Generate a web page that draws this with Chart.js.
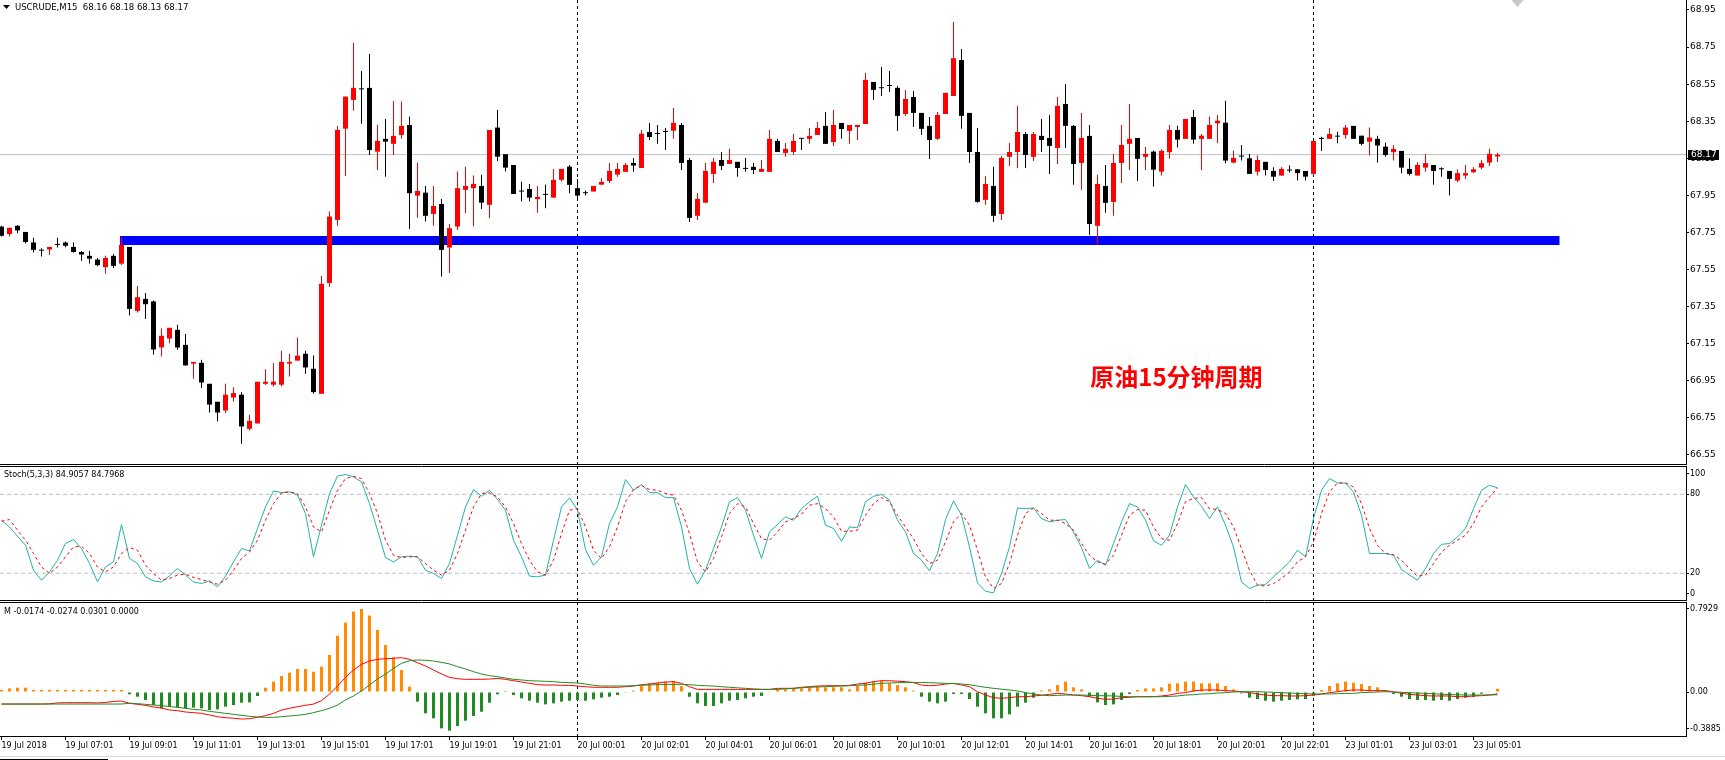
<!DOCTYPE html>
<html>
<head>
<meta charset="utf-8">
<title>USCRUDE M15</title>
<script src="https://cdn.jsdelivr.net/npm/chart.js@4.4.1/dist/chart.umd.min.js"></script>
<style>
  html, body { margin: 0; padding: 0; background: #fff; }
  body { width: 1725px; height: 760px; position: relative; overflow: hidden; }
  .pane { position: absolute; left: 0; width: 1725px; }
  #pricePane { top: 0; height: 465px; }
  #stochPane { top: 466px; height: 135px; }
  #macdPane { top: 602px; height: 158px; }
</style>
</head>
<body>
<div class="pane" id="pricePane"><canvas id="priceChart"></canvas></div>
<div class="pane" id="stochPane"><canvas id="stochChart"></canvas></div>
<div class="pane" id="macdPane"><canvas id="macdChart"></canvas></div>
<script>
const symbolName = 'USCRUDE,M15';
const stochTitle = 'Stoch(5,3,3) 84.9057 84.7968';
const macdTitle = 'M -0.0174 -0.0274 0.0301 0.0000';
const noteText = '原油15分钟周期';
const noteBar = 136.1;
const notePrice = 66.97;
const shiftMarkBar = 189.5;

// 15 minute candles, one per bar index
const opens = [
  67.782, 67.741, 67.786, 67.753, 67.696, 67.652, 67.658, 67.683, 67.696, 67.672,
  67.645, 67.624, 67.604, 67.563, 67.624, 67.582, 67.672, 67.327, 67.392, 67.378,
  67.130, 67.178, 67.225, 67.144, 67.043, 67.047, 66.934, 66.837, 66.790, 66.860,
  66.875, 66.691, 66.720, 66.934, 66.929, 66.929, 67.043, 67.059, 67.096, 67.015,
  66.880, 67.478, 67.818, 68.310, 68.465, 68.522, 68.530, 68.186, 68.255, 68.228,
  68.276, 68.330, 67.949, 67.965, 67.850, 67.904, 67.669, 67.782, 67.980, 67.989,
  68.001, 67.899, 68.316, 68.172, 68.114, 67.971, 67.985, 67.930, 67.953, 67.938,
  68.034, 68.105, 67.989, 67.962, 67.971, 68.008, 68.028, 68.062, 68.077, 68.125,
  68.098, 68.292, 68.281, 68.292, 68.299, 68.330, 68.141, 67.840, 67.911, 68.066,
  68.141, 68.120, 68.131, 68.093, 68.104, 68.077, 68.077, 68.244, 68.179, 68.184,
  68.255, 68.255, 68.276, 68.325, 68.238, 68.341, 68.298, 68.319, 68.335, 68.562,
  68.528, 68.540, 68.530, 68.389, 68.481, 68.395, 68.325, 68.255, 68.389, 68.486,
  68.680, 68.395, 68.184, 67.926, 68.001, 67.850, 68.158, 68.184, 68.281, 68.158,
  68.271, 68.260, 68.206, 68.443, 68.325, 68.125, 68.271, 67.786, 68.001, 67.915,
  68.125, 68.228, 68.260, 68.158, 68.186, 68.078, 68.183, 68.303, 68.255, 68.373,
  68.255, 68.255, 68.339, 68.342, 68.127, 68.159, 68.150, 68.078, 68.131, 68.082,
  68.057, 68.084, 68.091, 68.082, 68.066, 68.255, 68.255, 68.267, 68.276, 68.325,
  68.272, 68.240, 68.255, 68.213, 68.183, 68.190, 68.093, 68.057, 68.100, 68.114,
  68.091, 68.082, 68.030, 68.057, 68.075, 68.100, 68.127, 68.160
];
const highs = [
  67.786, 67.775, 67.790, 67.753, 67.721, 67.665, 67.672, 67.721, 67.701, 67.696,
  67.650, 67.650, 67.612, 67.624, 67.634, 67.728, 67.672, 67.462, 67.423, 67.383,
  67.234, 67.236, 67.252, 67.202, 67.052, 67.063, 66.934, 66.837, 66.934, 66.915,
  66.888, 66.767, 66.945, 67.013, 67.045, 67.112, 67.096, 67.183, 67.112, 67.086,
  67.516, 67.863, 68.325, 68.483, 68.774, 68.621, 68.713, 68.330, 68.362, 68.459,
  68.456, 68.375, 68.127, 68.001, 68.001, 67.931, 67.796, 68.079, 68.105, 68.057,
  68.061, 68.303, 68.411, 68.172, 68.114, 68.023, 68.012, 68.001, 68.007, 68.093,
  68.093, 68.114, 68.039, 67.976, 68.001, 68.044, 68.125, 68.125, 68.125, 68.152,
  68.303, 68.341, 68.330, 68.314, 68.422, 68.341, 68.152, 67.963, 68.125, 68.152,
  68.184, 68.201, 68.131, 68.152, 68.125, 68.141, 68.303, 68.255, 68.233, 68.281,
  68.260, 68.314, 68.346, 68.400, 68.411, 68.341, 68.330, 68.330, 68.610, 68.562,
  68.643, 68.621, 68.540, 68.519, 68.513, 68.395, 68.373, 68.400, 68.503, 68.885,
  68.740, 68.395, 68.314, 68.055, 68.104, 68.163, 68.233, 68.433, 68.292, 68.292,
  68.362, 68.384, 68.481, 68.551, 68.330, 68.395, 68.330, 68.061, 68.114, 68.174,
  68.330, 68.443, 68.260, 68.211, 68.192, 68.199, 68.330, 68.326, 68.362, 68.411,
  68.281, 68.375, 68.384, 68.461, 68.192, 68.222, 68.174, 68.165, 68.131, 68.102,
  68.102, 68.111, 68.091, 68.082, 68.244, 68.267, 68.312, 68.294, 68.330, 68.325,
  68.272, 68.316, 68.272, 68.235, 68.222, 68.190, 68.150, 68.129, 68.174, 68.114,
  68.102, 68.082, 68.091, 68.114, 68.102, 68.141, 68.201, 68.180
];
const lows = [
  67.728, 67.728, 67.746, 67.690, 67.642, 67.620, 67.629, 67.669, 67.671, 67.642,
  67.597, 67.583, 67.568, 67.527, 67.559, 67.575, 67.302, 67.318, 67.283, 67.090,
  67.081, 67.153, 67.117, 67.033, 66.961, 66.911, 66.779, 66.731, 66.776, 66.839,
  66.610, 66.682, 66.720, 66.927, 66.919, 66.919, 66.973, 67.059, 66.988, 66.880,
  66.880, 67.458, 67.786, 68.055, 68.407, 68.336, 68.168, 68.087, 68.051, 68.168,
  68.256, 67.769, 67.830, 67.809, 67.787, 67.512, 67.531, 67.764, 67.854, 67.782,
  67.877, 67.827, 68.136, 68.079, 67.958, 67.917, 67.917, 67.857, 67.881, 67.938,
  68.024, 67.962, 67.926, 67.949, 67.971, 68.008, 68.017, 68.050, 68.077, 68.077,
  68.098, 68.249, 68.228, 68.195, 68.255, 68.087, 67.807, 67.818, 67.908, 68.017,
  68.087, 68.120, 68.050, 68.077, 68.066, 68.077, 68.077, 68.184, 68.158, 68.168,
  68.195, 68.228, 68.276, 68.228, 68.217, 68.255, 68.228, 68.249, 68.335, 68.465,
  68.486, 68.508, 68.298, 68.379, 68.319, 68.276, 68.147, 68.249, 68.389, 68.486,
  68.309, 68.125, 67.910, 67.899, 67.807, 67.818, 68.109, 68.098, 68.098, 68.136,
  68.184, 68.066, 68.120, 68.206, 68.007, 67.980, 67.737, 67.683, 67.856, 67.840,
  68.017, 68.087, 68.028, 68.087, 67.998, 68.057, 68.148, 68.208, 68.255, 68.228,
  68.087, 68.255, 68.231, 68.124, 68.124, 68.138, 68.066, 68.057, 68.057, 68.028,
  68.057, 68.073, 68.030, 68.030, 68.057, 68.190, 68.255, 68.231, 68.255, 68.255,
  68.219, 68.165, 68.127, 68.159, 68.138, 68.070, 68.057, 68.057, 68.078, 68.007,
  68.051, 67.949, 68.021, 68.039, 68.070, 68.091, 68.109, 68.130
];
const closes = [
  67.732, 67.775, 67.761, 67.699, 67.656, 67.652, 67.672, 67.683, 67.678, 67.645,
  67.631, 67.609, 67.574, 67.613, 67.570, 67.683, 67.338, 67.401, 67.363, 67.119,
  67.193, 67.236, 67.130, 67.033, 67.052, 66.941, 66.822, 66.779, 66.875, 66.884,
  66.704, 66.734, 66.945, 66.945, 66.945, 67.052, 67.052, 67.086, 67.022, 66.889,
  67.473, 67.836, 68.303, 68.483, 68.530, 68.522, 68.195, 68.244, 68.240, 68.271,
  68.325, 67.962, 67.974, 67.840, 67.893, 67.656, 67.773, 67.989, 68.001, 68.012,
  67.911, 68.303, 68.159, 68.100, 67.958, 67.971, 67.938, 67.942, 67.953, 68.034,
  68.093, 68.007, 67.949, 67.962, 68.001, 68.023, 68.082, 68.093, 68.114, 68.111,
  68.283, 68.265, 68.281, 68.292, 68.341, 68.125, 67.829, 67.931, 68.082, 68.131,
  68.109, 68.141, 68.098, 68.093, 68.087, 68.093, 68.255, 68.184, 68.201, 68.244,
  68.255, 68.271, 68.314, 68.228, 68.330, 68.308, 68.330, 68.330, 68.573, 68.519,
  68.528, 68.540, 68.379, 68.470, 68.395, 68.309, 68.249, 68.384, 68.503, 68.690,
  68.379, 68.184, 67.915, 68.012, 67.840, 68.152, 68.184, 68.292, 68.168, 68.281,
  68.249, 68.217, 68.433, 68.325, 68.120, 68.260, 67.796, 68.012, 67.910, 68.125,
  68.222, 68.255, 68.147, 68.174, 68.089, 68.190, 68.303, 68.251, 68.362, 68.251,
  68.272, 68.330, 68.353, 68.138, 68.152, 68.159, 68.066, 68.141, 68.087, 68.051,
  68.093, 68.084, 68.070, 68.051, 68.244, 68.255, 68.281, 68.267, 68.316, 68.255,
  68.228, 68.262, 68.219, 68.168, 68.201, 68.100, 68.066, 68.114, 68.124, 68.082,
  68.091, 68.039, 68.070, 68.070, 68.091, 68.124, 68.174, 68.170
];

// Stochastic %K and %D
const stochMain = [
  60.3, 55.2, 48.1, 41.3, 22.3, 14.7, 21.0, 29.9, 42.6, 45.6,
  38.8, 27.4, 13.4, 24.8, 28.6, 57.0, 31.2, 27.4, 17.3, 14.2,
  13.4, 18.0, 23.6, 18.6, 13.4, 12.2, 14.2, 9.6, 17.8, 28.6,
  38.8, 37.0, 54.0, 70.4, 82.6, 81.3, 81.8, 79.3, 65.4, 32.5,
  56.5, 80.6, 93.9, 95.0, 93.2, 89.4, 72.9, 52.7, 31.9, 28.6,
  32.5, 33.0, 32.5, 22.3, 19.8, 16.0, 27.4, 48.9, 70.4, 83.6,
  78.5, 83.1, 76.0, 67.9, 45.1, 32.5, 17.8, 17.3, 18.6, 45.1,
  70.4, 77.3, 67.9, 38.0, 26.1, 32.5, 57.8, 70.4, 91.2, 83.1,
  87.4, 81.3, 81.3, 77.5, 77.5, 55.2, 23.6, 11.7, 22.3, 38.8,
  55.2, 74.3, 77.5, 67.9, 48.9, 31.2, 51.4, 57.0, 62.8, 60.3,
  69.1, 74.3, 78.5, 56.5, 54.0, 44.3, 55.2, 54.5, 74.3, 78.5,
  79.8, 75.5, 60.3, 51.4, 35.0, 29.9, 21.8, 35.0, 60.8, 75.0,
  64.1, 40.0, 12.7, 6.3, 5.1, 19.8, 40.0, 69.6, 69.1, 69.6,
  61.6, 59.0, 60.3, 60.8, 51.4, 39.5, 23.6, 29.9, 26.1, 42.6,
  59.0, 72.9, 70.4, 60.3, 44.6, 41.3, 48.9, 70.4, 87.4, 78.0,
  70.9, 61.6, 70.4, 56.5, 40.0, 13.4, 8.4, 10.9, 11.4, 17.3,
  22.8, 28.6, 37.5, 32.5, 61.6, 83.1, 91.9, 88.6, 88.6, 81.8,
  64.1, 35.0, 35.0, 35.0, 33.7, 22.8, 18.6, 14.7, 23.6, 35.0,
  42.0, 42.6, 47.6, 54.0, 69.1, 83.1, 86.8, 84.9
];
const stochSignal = [
  59.5, 60.8, 52.7, 45.1, 35.0, 24.8, 19.8, 24.8, 32.5, 40.0,
  40.5, 35.0, 24.8, 21.0, 24.8, 35.0, 39.5, 37.5, 26.1, 19.8,
  14.7, 16.0, 18.6, 19.3, 16.8, 15.2, 13.4, 11.7, 14.7, 22.3,
  31.2, 36.2, 45.1, 60.3, 72.9, 81.1, 81.8, 80.6, 70.4, 55.2,
  51.4, 67.9, 83.1, 91.9, 93.7, 91.9, 80.6, 65.4, 45.1, 33.7,
  31.9, 32.5, 32.5, 27.4, 22.3, 18.6, 22.3, 35.0, 52.7, 70.4,
  80.6, 81.1, 78.0, 70.4, 57.8, 42.6, 29.9, 21.0, 18.6, 29.9,
  50.1, 67.9, 69.1, 55.2, 37.5, 31.2, 40.0, 55.2, 74.3, 83.6,
  86.8, 83.6, 83.1, 80.6, 79.3, 67.9, 50.1, 28.6, 21.0, 31.2,
  47.6, 65.4, 72.9, 70.4, 57.8, 46.3, 45.1, 51.4, 59.0, 61.6,
  64.9, 71.7, 72.9, 69.1, 62.8, 51.9, 51.9, 52.7, 64.1, 72.9,
  77.5, 74.3, 64.1, 55.2, 46.3, 35.0, 27.4, 29.9, 43.8, 59.0,
  65.4, 56.5, 37.5, 17.3, 8.4, 12.2, 27.4, 48.9, 65.4, 69.6,
  65.4, 60.3, 60.3, 57.8, 52.7, 42.6, 33.7, 28.6, 26.9, 33.7,
  48.9, 64.1, 68.4, 67.9, 55.2, 46.3, 45.1, 57.8, 74.3, 76.8,
  77.5, 69.1, 68.4, 65.4, 55.2, 38.8, 22.3, 10.9, 10.2, 12.2,
  16.0, 21.0, 28.6, 32.5, 43.8, 65.4, 81.8, 88.6, 88.6, 85.6,
  72.9, 54.0, 41.3, 35.0, 34.2, 29.9, 23.6, 17.8, 18.6, 27.4,
  36.2, 41.3, 45.1, 48.9, 57.8, 70.4, 78.0, 84.8
];
const stochLevels = [20, 80];

// "M" oscillator: histogram, main line, signal line
const macdHist = [
  0.021, 0.035, 0.041, 0.041, 0.021, 0.021, 0.021, 0.021, 0.021, 0.021,
  0.021, 0.021, 0.021, 0.021, 0.021, 0.021, -0.022, -0.045, -0.076, -0.124,
  -0.156, -0.140, -0.149, -0.156, -0.149, -0.156, -0.172, -0.166, -0.140, -0.124,
  -0.102, -0.099, -0.038, 0.041, 0.099, 0.153, 0.185, 0.220, 0.220, 0.194,
  0.242, 0.354, 0.538, 0.663, 0.768, 0.793, 0.730, 0.592, 0.449, 0.331,
  0.210, 0.051, -0.092, -0.204, -0.251, -0.347, -0.369, -0.325, -0.274, -0.229,
  -0.188, -0.102, -0.022, 0.010, -0.029, -0.060, -0.083, -0.102, -0.118, -0.108,
  -0.092, -0.083, -0.076, -0.083, -0.070, -0.054, -0.045, -0.029, -0.003, 0.013,
  0.057, 0.083, 0.089, 0.099, 0.105, 0.057, -0.045, -0.108, -0.134, -0.134,
  -0.108, -0.083, -0.076, -0.060, -0.045, -0.038, 0.003, 0.025, 0.025, 0.035,
  0.035, 0.045, 0.057, 0.045, 0.045, 0.045, 0.025, 0.057, 0.089, 0.099,
  0.108, 0.083, 0.067, 0.045, 0.013, -0.045, -0.092, -0.108, -0.092, -0.019,
  -0.019, -0.067, -0.140, -0.204, -0.251, -0.251, -0.213, -0.140, -0.102, -0.054,
  0.013, 0.025, 0.067, 0.099, 0.045, 0.025, -0.045, -0.099, -0.124, -0.118,
  -0.076, -0.019, 0.019, 0.035, 0.035, 0.045, 0.080, 0.083, 0.099, 0.100,
  0.083, 0.083, 0.083, 0.057, 0.025, -0.013, -0.054, -0.067, -0.083, -0.092,
  -0.083, -0.076, -0.070, -0.067, -0.035, 0.019, 0.057, 0.083, 0.099, 0.089,
  0.076, 0.057, 0.045, 0.019, -0.019, -0.045, -0.067, -0.076, -0.076, -0.083,
  -0.076, -0.083, -0.067, -0.054, -0.048, -0.016, 0.006, 0.030
];
const macdMain = [
  -0.115, -0.115, -0.115, -0.115, -0.115, -0.115, -0.113, -0.104, -0.102, -0.102,
  -0.102, -0.102, -0.104, -0.100, -0.090, -0.086, -0.108, -0.118, -0.127, -0.143,
  -0.153, -0.172, -0.178, -0.191, -0.197, -0.204, -0.220, -0.236, -0.245, -0.251,
  -0.258, -0.255, -0.242, -0.226, -0.204, -0.172, -0.156, -0.140, -0.127, -0.115,
  -0.083, -0.020, 0.057, 0.140, 0.210, 0.264, 0.296, 0.312, 0.318, 0.322,
  0.328, 0.312, 0.280, 0.248, 0.210, 0.172, 0.140, 0.127, 0.121, 0.121,
  0.121, 0.124, 0.130, 0.121, 0.108, 0.096, 0.083, 0.070, 0.067, 0.067,
  0.064, 0.064, 0.057, 0.051, 0.045, 0.045, 0.045, 0.045, 0.051, 0.057,
  0.070, 0.076, 0.086, 0.095, 0.099, 0.083, 0.051, 0.025, 0.025, 0.025,
  0.025, 0.025, 0.025, 0.025, 0.025, 0.025, 0.025, 0.035, 0.035, 0.035,
  0.045, 0.051, 0.057, 0.060, 0.060, 0.060, 0.064, 0.076, 0.083, 0.099,
  0.108, 0.108, 0.103, 0.099, 0.089, 0.067, 0.060, 0.065, 0.076, 0.083,
  0.067, 0.051, 0.003, -0.029, -0.054, -0.060, -0.054, -0.045, -0.045, -0.038,
  -0.032, -0.022, -0.013, -0.019, -0.029, -0.035, -0.045, -0.060, -0.070, -0.067,
  -0.054, -0.051, -0.045, -0.045, -0.045, -0.038, -0.029, -0.013, -0.006, 0.010,
  0.019, 0.019, 0.019, 0.013, 0.010, 0.003, -0.006, -0.019, -0.029, -0.035,
  -0.035, -0.038, -0.038, -0.035, -0.029, -0.019, -0.006, 0.003, 0.013, 0.019,
  0.019, 0.013, 0.013, 0.013, 0.003, -0.013, -0.022, -0.029, -0.035, -0.038,
  -0.038, -0.038, -0.045, -0.045, -0.038, -0.035, -0.029, -0.017
];
const macdSignal = [
  -0.115, -0.115, -0.115, -0.115, -0.115, -0.115, -0.115, -0.115, -0.115, -0.115,
  -0.115, -0.115, -0.115, -0.115, -0.115, -0.115, -0.108, -0.111, -0.118, -0.124,
  -0.130, -0.140, -0.146, -0.156, -0.166, -0.172, -0.185, -0.194, -0.204, -0.213,
  -0.223, -0.232, -0.239, -0.242, -0.242, -0.236, -0.229, -0.223, -0.213, -0.197,
  -0.178, -0.156, -0.124, -0.076, -0.038, 0.010, 0.067, 0.124, 0.172, 0.226,
  0.274, 0.299, 0.306, 0.303, 0.296, 0.283, 0.268, 0.242, 0.220, 0.194,
  0.172, 0.156, 0.146, 0.134, 0.121, 0.115, 0.108, 0.105, 0.102, 0.099,
  0.092, 0.089, 0.086, 0.076, 0.064, 0.057, 0.057, 0.057, 0.057, 0.060,
  0.064, 0.067, 0.070, 0.072, 0.073, 0.073, 0.070, 0.064, 0.060, 0.057,
  0.051, 0.045, 0.040, 0.035, 0.030, 0.025, 0.025, 0.025, 0.030, 0.035,
  0.040, 0.045, 0.048, 0.051, 0.054, 0.057, 0.060, 0.064, 0.067, 0.075,
  0.083, 0.086, 0.089, 0.091, 0.092, 0.091, 0.089, 0.086, 0.083, 0.080,
  0.076, 0.070, 0.057, 0.045, 0.035, 0.027, 0.019, 0.010, -0.006, -0.019,
  -0.029, -0.035, -0.032, -0.029, -0.029, -0.029, -0.032, -0.035, -0.036, -0.038,
  -0.042, -0.045, -0.045, -0.045, -0.045, -0.045, -0.042, -0.038, -0.029, -0.026,
  -0.019, -0.016, -0.010, -0.006, 0.000, 0.003, 0.003, 0.003, 0.000, -0.003,
  -0.006, -0.010, -0.013, -0.016, -0.019, -0.019, -0.019, -0.016, -0.013, -0.013,
  -0.006, -0.003, 0.000, 0.003, 0.000, -0.003, -0.006, -0.010, -0.013, -0.016,
  -0.022, -0.024, -0.026, -0.029, -0.029, -0.029, -0.028, -0.027
];

// axes
const timeTickBars = [0, 8, 16, 24, 32, 40, 48, 56, 64, 72, 80, 88, 96, 104, 112, 120, 128, 136, 144, 152, 160, 168, 176, 184];
const timeTickLabels = [
  '19 Jul 2018', '19 Jul 07:01', '19 Jul 09:01', '19 Jul 11:01', '19 Jul 13:01', '19 Jul 15:01',
  '19 Jul 17:01', '19 Jul 19:01', '19 Jul 21:01', '20 Jul 00:01', '20 Jul 02:01', '20 Jul 04:01',
  '20 Jul 06:01', '20 Jul 08:01', '20 Jul 10:01', '20 Jul 12:01', '20 Jul 14:01', '20 Jul 16:01',
  '20 Jul 18:01', '20 Jul 20:01', '20 Jul 22:01', '23 Jul 01:01', '23 Jul 03:01', '23 Jul 05:01'
];
const priceTicks = [66.55, 66.75, 66.95, 67.15, 67.35, 67.55, 67.75, 67.95, 68.15, 68.35, 68.55, 68.75, 68.95];
const stochTickValues = [4.6, 20, 80, 95.8];
const stochTickLabels = ['0', '20', '80', '100'];
const macdTickValues = [-0.353, 0, 0.7929];
const macdTickLabels = ['-0.3885', '0.00', '0.7929'];
const daySeparators = [72, 164];
const supportLevel = 67.707;
const supportFrom = 14.8;
const supportTo = 194.75;

const bars = closes.map((_, i) => i);
const last = closes.length - 1;
const headerText = symbolName + '  ' + [opens[last], highs[last], lows[last], closes[last]].map(v => v.toFixed(2)).join(' ');

const AXIS_W = 39;
const X_MIN = -0.1875;
const X_MAX = X_MIN + (1725 - AXIS_W) / 8;

Chart.defaults.font.family = '"DejaVu Sans", "Liberation Sans", sans-serif';
Chart.defaults.color = '#000';
Chart.defaults.animation = false;

const BULL = '#ff0000';
const BEAR = '#000000';
const candleColor = c => closes[c.dataIndex] > opens[c.dataIndex] ? BULL : BEAR;

const fitRight = s => { s.width = AXIS_W; s.paddingTop = 0; s.paddingBottom = 0; };
const hiddenX = { type: 'linear', min: X_MIN, max: X_MAX, offset: false, display: false };
const rightAxis = (min, max, values, labels, size) => ({
    position: 'right', min: min, max: max,
    afterBuildTicks: s => { s.ticks = values.map(v => ({ value: v })); },
    afterFit: fitRight,
    ticks: { callback: (v, i) => labels(v, i), color: '#000', font: { size: size }, padding: 1 },
    grid: { drawOnChartArea: false, drawTicks: true, tickLength: 3, color: '#000' },
    border: { display: true, color: '#000' }
});
const flat = (y, color, dash, width, order) => ({
    type: 'line', data: [{ x: X_MIN, y: y }, { x: X_MAX, y: y }],
    borderColor: color, borderDash: dash, borderWidth: width, pointRadius: 0, order: order
});
const baseOptions = {
    responsive: true, maintainAspectRatio: false, events: [],
    layout: { padding: 0 },
    plugins: { legend: { display: false }, tooltip: { enabled: false } }
};

// plugins
const paneFrame = {
    id: 'paneFrame',
    afterDraw(chart, args, opts) {
        const { ctx, chartArea: a } = chart;
        ctx.save();
        ctx.strokeStyle = '#000';
        ctx.lineWidth = 1;
        ctx.beginPath();
        if (opts.top) { ctx.moveTo(0, a.top + 0.5); ctx.lineTo(a.right, a.top + 0.5); }
        if (opts.bottom) { ctx.moveTo(0, a.bottom - 0.5); ctx.lineTo(a.right, a.bottom - 0.5); }
        ctx.stroke();
        if (opts.title) {
            ctx.fillStyle = '#000';
            ctx.font = '8px "DejaVu Sans"';
            ctx.textBaseline = 'middle';
            ctx.fillText(opts.title, 4, opts.titleY);
        }
        if (opts.footer) {
            ctx.fillStyle = '#d8d8d8';
            ctx.fillRect(0, chart.height - 4, chart.width, 1);
            ctx.fillStyle = '#000';
            ctx.fillRect(0, chart.height - 1, 108, 1);
        }
        ctx.restore();
    }
};

const separatorLines = {
    id: 'separatorLines',
    beforeDatasetsDraw(chart) {
        const { ctx, chartArea: a, scales: { x } } = chart;
        ctx.save();
        ctx.strokeStyle = '#000';
        ctx.lineWidth = 1;
        ctx.setLineDash([3, 3]);
        daySeparators.forEach(b => {
            const px = Math.round(x.getPixelForValue(b) - 0.5) + 0.5;
            ctx.beginPath();
            ctx.moveTo(px, a.top);
            ctx.lineTo(px, a.bottom);
            ctx.stroke();
        });
        ctx.restore();
    }
};

const priceExtras = {
    id: 'priceExtras',
    afterDatasetsDraw(chart) {
        const { ctx, scales: { x, y } } = chart;
        ctx.save();
        ctx.fillStyle = '#ff0000';
        ctx.font = 'bold 24px "Noto Sans CJK SC", sans-serif';
        ctx.textBaseline = 'middle';
        ctx.fillText(noteText, x.getPixelForValue(noteBar), y.getPixelForValue(notePrice));
        // chart shift marker at the top edge
        const sx = x.getPixelForValue(shiftMarkBar);
        ctx.fillStyle = '#c8c8c8';
        ctx.beginPath();
        ctx.moveTo(sx - 6, 0); ctx.lineTo(sx + 6, 0); ctx.lineTo(sx, 7);
        ctx.closePath();
        ctx.fill();
        ctx.restore();
    },
    afterDraw(chart) {
        const { ctx, chartArea: a, scales: { y } } = chart;
        const py = y.getPixelForValue(closes[last]);
        ctx.save();
        ctx.fillStyle = '#000';
        ctx.fillRect(a.right + 2, Math.round(py) - 5, 31, 10);
        ctx.fillStyle = '#fff';
        ctx.font = '9px "DejaVu Sans"';
        ctx.textBaseline = 'middle';
        ctx.fillText(closes[last].toFixed(2), a.right + 5, py);
        ctx.fillStyle = '#000';
        ctx.beginPath();
        ctx.moveTo(3, 5); ctx.lineTo(10, 5); ctx.lineTo(6.5, 9);
        ctx.closePath();
        ctx.fill();
        ctx.font = '8.5px "DejaVu Sans"';
        ctx.fillText(headerText, 15, 7.5);
        ctx.restore();
    }
};

// price pane
new Chart(document.getElementById('priceChart'), {
    type: 'bar',
    data: {
        datasets: [
            {
                type: 'line', data: [{ x: supportFrom, y: supportLevel }, { x: supportTo, y: supportLevel }],
                borderColor: '#0000ff', borderWidth: 9, borderCapStyle: 'butt', pointRadius: 0, order: 4
            },
            flat(closes[last], '#c0c0c0', [], 1, 5),
            {
                data: bars.map(i => ({ x: i, y: [lows[i], highs[i]] })),
                backgroundColor: candleColor, barThickness: 1, maxBarThickness: 1,
                grouped: false, inflateAmount: 0, borderWidth: 0, order: 2
            },
            {
                data: bars.map(i => ({ x: i, y: [opens[i], closes[i]] })),
                backgroundColor: candleColor, barThickness: 5, maxBarThickness: 5, minBarLength: 1,
                grouped: false, inflateAmount: 0, borderWidth: 0, order: 1
            }
        ]
    },
    options: {
        ...baseOptions,
        scales: {
            x: hiddenX,
            y: rightAxis(66.496, 69.0039, priceTicks, v => v.toFixed(2), 9)
        },
        plugins: { ...baseOptions.plugins, paneFrame: { bottom: true } }
    },
    plugins: [separatorLines, paneFrame, priceExtras]
});

// stochastic pane
new Chart(document.getElementById('stochChart'), {
    type: 'line',
    data: {
        datasets: [
            ...stochLevels.map(v => flat(v, '#c0c0c0', [4, 3], 1, 5)),
            {
                data: bars.map(i => ({ x: i, y: stochMain[i] })),
                borderColor: '#20b2aa', borderWidth: 1, pointRadius: 0, tension: 0, order: 3
            },
            {
                data: bars.map(i => ({ x: i, y: stochSignal[i] })),
                borderColor: '#ff0000', borderWidth: 1, borderDash: [3, 3], pointRadius: 0, tension: 0, order: 2
            }
        ]
    },
    options: {
        ...baseOptions,
        scales: {
            x: hiddenX,
            y: rightAxis(-1.1, 101.5, stochTickValues, (v, i) => stochTickLabels[i], 8)
        },
        plugins: { ...baseOptions.plugins, paneFrame: { top: true, bottom: true, title: stochTitle, titleY: 9 } }
    },
    plugins: [separatorLines, paneFrame]
});

// oscillator pane with time axis
new Chart(document.getElementById('macdChart'), {
    type: 'bar',
    data: {
        datasets: [
            {
                data: bars.map(i => ({ x: i, y: macdHist[i] })),
                backgroundColor: c => macdHist[c.dataIndex] > 0 ? '#ff8c00' : '#228b22',
                barThickness: 3, maxBarThickness: 3, grouped: false, inflateAmount: 0, borderWidth: 0, order: 3
            },
            {
                type: 'line', data: bars.map(i => ({ x: i, y: macdMain[i] })),
                borderColor: '#ff0000', borderWidth: 1, pointRadius: 0, tension: 0, order: 2
            },
            {
                type: 'line', data: bars.map(i => ({ x: i, y: macdSignal[i] })),
                borderColor: '#228b22', borderWidth: 1, pointRadius: 0, tension: 0, order: 1
            }
        ]
    },
    options: {
        ...baseOptions,
        scales: {
            x: {
                type: 'linear', min: X_MIN, max: X_MAX, offset: false, position: 'bottom',
                afterBuildTicks: s => { s.ticks = timeTickBars.map(v => ({ value: v })); },
                afterFit: s => { s.height = 24; s.paddingLeft = 0; s.paddingRight = 0; },
                ticks: {
                    callback: (v, i) => timeTickLabels[i], align: 'start', autoSkip: false,
                    maxRotation: 0, minRotation: 0, padding: 1, color: '#000', font: { size: 8 }
                },
                grid: { offset: false, drawOnChartArea: false, drawTicks: true, tickLength: 4, color: '#000' },
                border: { display: true, color: '#000' }
            },
            y: rightAxis(-0.4202, 0.8596, macdTickValues, (v, i) => macdTickLabels[i], 8)
        },
        plugins: { ...baseOptions.plugins, paneFrame: { top: true, title: macdTitle, titleY: 9.7, footer: true } }
    },
    plugins: [separatorLines, paneFrame]
});
</script>
</body>
</html>
